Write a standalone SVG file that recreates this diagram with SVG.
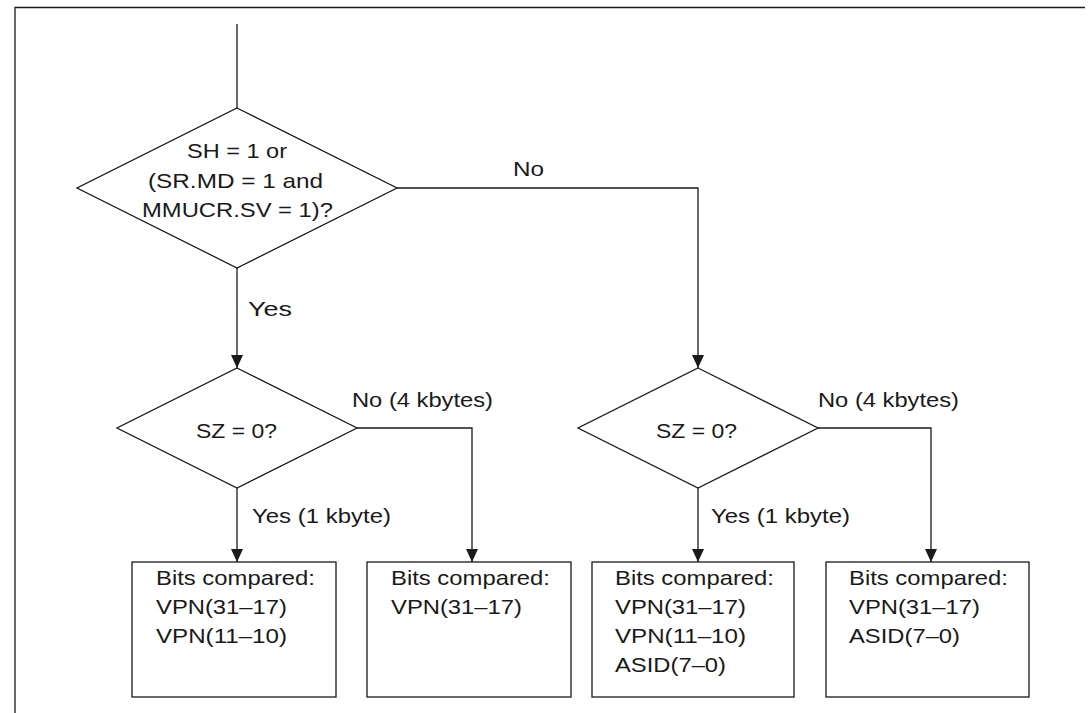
<svg xmlns="http://www.w3.org/2000/svg" width="1091" height="713" viewBox="0 0 1091 713">
<defs>
<marker id="arr" viewBox="0 0 13 12" refX="13" refY="6" markerWidth="13" markerHeight="12" markerUnits="userSpaceOnUse" orient="auto">
<path d="M0,0 L13,6 L0,12 Z" fill="#1a1a1a"/>
</marker>
<style>
.s{fill:#fff;stroke:#1a1a1a;stroke-width:1.3}
.c{fill:none;stroke:#1a1a1a;stroke-width:1.3}
text{font-family:"Liberation Sans",Arial,sans-serif;font-size:21px;fill:#1a1a1a}
</style>
</defs>
<rect width="1091" height="713" fill="#fff"/>
<path class="c" d="M15,713 V7.5 H1085"/>
<g id="connectors">
<path class="c" d="M237,24 V108"/>
<path class="c" d="M237,268 V368" marker-end="url(#arr)"/>
<path class="c" d="M397,188 H698 V368" marker-end="url(#arr)"/>
<path class="c" d="M237,488 V562" marker-end="url(#arr)"/>
<path class="c" d="M357,428 H472 V562" marker-end="url(#arr)"/>
<path class="c" d="M698,488 V562" marker-end="url(#arr)"/>
<path class="c" d="M818,428 H931 V562" marker-end="url(#arr)"/>
<text x="513" y="176" textLength="31" lengthAdjust="spacingAndGlyphs">No</text>
<text x="248" y="316" textLength="44" lengthAdjust="spacingAndGlyphs">Yes</text>
<text x="352" y="407" textLength="141" lengthAdjust="spacingAndGlyphs">No (4 kbytes)</text>
<text x="252" y="523" textLength="139" lengthAdjust="spacingAndGlyphs">Yes (1 kbyte)</text>
<text x="818" y="407" textLength="141" lengthAdjust="spacingAndGlyphs">No (4 kbytes)</text>
<text x="711" y="523" textLength="139" lengthAdjust="spacingAndGlyphs">Yes (1 kbyte)</text>
</g>
<g id="d1">
<polygon class="s" points="237,108 397,188 237,268 77,188"/>
<text x="187" y="158" textLength="100" lengthAdjust="spacingAndGlyphs">SH = 1 or</text>
<text x="148" y="188" textLength="175" lengthAdjust="spacingAndGlyphs">(SR.MD = 1 and</text>
<text x="142" y="217" textLength="191" lengthAdjust="spacingAndGlyphs">MMUCR.SV = 1)?</text>
</g>
<g id="d2">
<polygon class="s" points="237,368 357,428 237,488 117,428"/>
<text x="196" y="438" textLength="81" lengthAdjust="spacingAndGlyphs">SZ = 0?</text>
</g>
<g id="d3">
<polygon class="s" points="698,368 818,428 698,488 578,428"/>
<text x="656" y="438" textLength="81" lengthAdjust="spacingAndGlyphs">SZ = 0?</text>
</g>
<g id="b1">
<rect class="s" x="132" y="562" width="204" height="135"/>
<text x="156" y="585" textLength="159" lengthAdjust="spacingAndGlyphs">Bits compared:</text>
<text x="156" y="614" textLength="131" lengthAdjust="spacingAndGlyphs">VPN(31–17)</text>
<text x="156" y="643" textLength="131" lengthAdjust="spacingAndGlyphs">VPN(11–10)</text>
</g>
<g id="b2">
<rect class="s" x="367" y="562" width="204" height="135"/>
<text x="391" y="585" textLength="159" lengthAdjust="spacingAndGlyphs">Bits compared:</text>
<text x="391" y="614" textLength="131" lengthAdjust="spacingAndGlyphs">VPN(31–17)</text>
</g>
<g id="b3">
<rect class="s" x="592" y="562" width="202" height="135"/>
<text x="615" y="585" textLength="159" lengthAdjust="spacingAndGlyphs">Bits compared:</text>
<text x="615" y="614" textLength="131" lengthAdjust="spacingAndGlyphs">VPN(31–17)</text>
<text x="615" y="643" textLength="131" lengthAdjust="spacingAndGlyphs">VPN(11–10)</text>
<text x="615" y="672" textLength="111" lengthAdjust="spacingAndGlyphs">ASID(7–0)</text>
</g>
<g id="b4">
<rect class="s" x="826" y="562" width="203" height="135"/>
<text x="849" y="585" textLength="159" lengthAdjust="spacingAndGlyphs">Bits compared:</text>
<text x="849" y="614" textLength="131" lengthAdjust="spacingAndGlyphs">VPN(31–17)</text>
<text x="849" y="643" textLength="111" lengthAdjust="spacingAndGlyphs">ASID(7–0)</text>
</g>
</svg>
